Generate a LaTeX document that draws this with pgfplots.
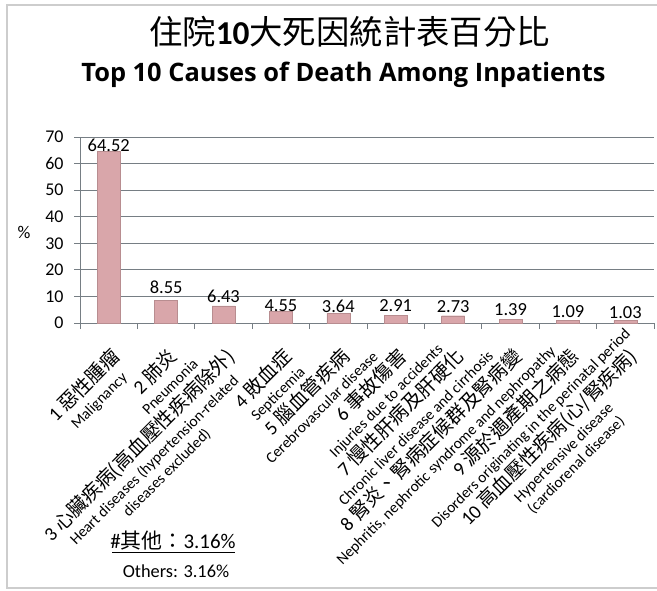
\documentclass[border=0pt]{standalone}
\usepackage{fontspec}
\setmainfont{Carlito}
\newfontfamily\cjk{Noto Sans CJK TC}
\newfontfamily\heading{Open Sans}
\usepackage{pgfplots}
\pgfplotsset{compat=1.18}

\definecolor{barpink}{RGB}{217,166,170}
\definecolor{gridgray}{RGB}{118,126,132}
\definecolor{framegray}{RGB}{205,205,205}

\newcommand\cz{\fontsize{19.5}{21}\selectfont}
\newcommand\en{\fontsize{15.5}{17.5}\selectfont}
\newsavebox\firstline
% first line sets the anchor, the English lines hang centred below it
\newcommand\lab[3]{%
  \sbox\firstline{\cz #1 {\cjk #2}}%
  \makebox[\wd\firstline]{\smash{\en\begin{tabular}[t]{@{}c@{}}\usebox\firstline\\[2bp] #3\end{tabular}}}%
  \vphantom{\usebox\firstline}}

\begin{document}
\begin{tikzpicture}[x=1bp,y=1bp]
\path[use as bounding box] (-80,-268) rectangle (577,323);
\draw[framegray, line width=1.5bp] (577,318) -- (-73,318) -- (-73,-265) -- (577,-265);

\node[anchor=base] at (269.5,278) {\fontsize{33.5}{36}\selectfont\cjk 住院{\setmainfont{Carlito}\rmfamily\bfseries 10}大死因統計表百分比};
\node[anchor=base] at (263.5,241) {\fontsize{25.5}{28}\selectfont\heading\bfseries Top 10 Causes of Death Among Inpatients};
\node at (-56,91) {\fontsize{18}{18}\selectfont \%};

\begin{axis}[
  scale only axis, width=574bp, height=186bp,
  xmin=0.5, xmax=10.5, ymin=0, ymax=70,
  axis x line*=bottom, axis y line*=left,
  axis line style={gridgray, line width=0.8bp},
  ytick={0,10,...,70}, ymajorgrids,
  grid style={gridgray, line width=0.8bp},
  tick style={gridgray, line width=0.8bp},
  tick align=outside, major tick length=6bp,
  /pgf/number format/assume math mode=true,
  yticklabel style={font=\fontsize{18}{18}\selectfont, xshift=-7bp},
  xtick={0.5,1.5,...,10.5}, xticklabel={\relax},
  extra x ticks={1,...,10},
  extra x tick style={major tick length=0pt, grid=none},
  extra x tick labels={
    {\lab{1}{惡性腫瘤}{Malignancy}},
    {\lab{2}{肺炎}{Pneumonia}},
    {\lab{3}{心臟疾病(高血壓性疾病除外)}{Heart diseases (hypertension-related\\diseases excluded)}},
    {\lab{4}{敗血症}{Septicemia}},
    {\lab{5}{腦血管疾病}{Cerebrovascular disease}},
    {\lab{6}{事故傷害}{Injuries due to accidents}},
    {\lab{7}{慢性肝病及肝硬化}{Chronic liver disease and cirrhosis}},
    {\lab{8}{腎炎、腎病症候群及腎病變}{Nephritis, nephrotic syndrome and nephropathy}},
    {\lab{9}{源於週產期之病態}{Disorders originating in the perinatal period}},
    {\lab{10}{高血壓性疾病(心/腎疾病)}{Hypertensive disease\\(cardiorenal disease)}}},
  x tick label style={xshift=1bp, yshift=-23bp, rotate=45, anchor=north east, inner sep=0pt},
  clip=false,
]
\addplot[ybar, bar width=23bp, fill=barpink, draw=barpink!85!black, line width=0.4bp,
  visualization depends on={\thisrow{off} \as \labeloff},
  nodes near coords={\pgfmathprintnumber[fixed,fixed zerofill,precision=2]{\pgfplotspointmeta}},
  every node near coord/.append style={font=\fontsize{18.5}{18.5}\selectfont, text=black,
    anchor=base, inner sep=0pt, yshift=\labeloff}]
table {
x y off
1 64.52 0.5
2 8.55 7
3 6.43 3
4 4.55 -1
5 3.64 1.3
6 2.91 3.3
7 2.73 3.7
8 1.39 4.3
9 1.09 3.1
10 1.03 1.3
};
\end{axis}

\node[anchor=base] at (93,-225) {\fontsize{21}{23}\selectfont \#{\cjk 其他：}3.16\%};
\draw[black, line width=0.8bp] (32,-229) -- (155,-229);
\node[anchor=base] at (96,-254) {\fontsize{18.4}{20}\selectfont Others: 3.16\%};
\end{tikzpicture}
\end{document}
